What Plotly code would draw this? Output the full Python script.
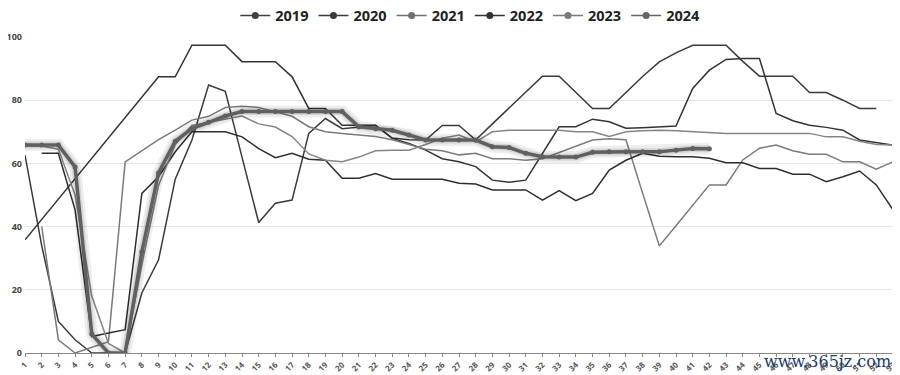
import plotly.graph_objects as go

weeks = list(range(1, 54))
N = None

y2019 = [62.6, 34, 10, 4.2, 0, 0, 0, 19, 29.5, 55, 67.4, 84.8, 82.8, 62, 41.3, 47.4, 48.4, 69.5, 74.2, 71,
         71.5, 72, 68, 67.5, 67.4, 72, 72, 67.4, 72.5, 77.5, 82.5, 87.6, 87.6, 82.5, 77.4, 77.4, 82.5, 87.5, 92.1, 95,
         97.4, 97.4, 97.4, 92.3, 87.6, 87.6, 87.6, 82.4, 82.4, 80, 77.4, 77.4, N]
y2020 = [35.8, N, N, N, N, N, N, N, 87.4, 87.4, 97.4, 97.4, 97.4, 92.2, 92.2, 92.2, 87.4, 77.4, 77.4, 72.1,
         72.1, 72.1, 67.9, 66.3, 64.2, 61.5, 60.5, 59, 54.7, 54, 54.7, 63, 71.6, 71.6, 74, 73.2, 71.1, 71.3, 71.5, 71.8,
         83.7, 89.5, 92.9, 93.2, 93.2, 75.8, 73.5, 72.1, 71.4, 70.5, 67.4, 66.5, 65.8]
y2021 = [N, 40, 4.2, 0, 1.8, 3.6, 60.5, 64, 67.5, 70.5, 73.7, 74.9, 77.7, 78.1, 77.7, 76.3, 74.9, 71.6, 70, 69.5,
         69, 68.5, 67.5, 66, 64.5, 64, 62.7, 63.2, 61.5, 61.5, 61, 61.5, 63.5, 65.5, 67.4, 67.8, 67.5, 50.6, 33.9, 40.3,
         46.8, 53.2, 53.2, 61.1, 64.8, 65.8, 64.0, 62.9, 62.9, 60.5, 60.5, 58.2, 60.5]
y2022 = [N, 63.2, 63.2, 45.3, 5.2, 6.3, 7.4, 50.5, 55.8, 63.7, 70, 70, 70, 68.4, 64.7, 61.8, 63.2, 61.3, 61, 55.3,
         55.3, 56.8, 55, 55, 55, 55, 53.7, 53.5, 51.6, 51.6, 51.6, 48.4, 51.4, 48.2, 50.5, 57.9, 61, 63.2, 62.3, 62.1,
         62.1, 61.6, 60.2, 60.2, 58.4, 58.4, 56.6, 56.6, 54.2, 55.8, 57.6, 53.2, 45.3]
y2023 = [65.5, 65.5, 64.5, 50, 18, 3, 0, 28, 53, 66, 72, 73, 74, 75, 72.5, 71.5, 68.5, 63, 61, 60.5,
         62, 64, 64.2, 64.2, 66, 68, 69, 66.8, 70, 70.5, 70.5, 70.5, 70.5, 70, 70, 68.5, 70, 70.3, 70.5, 70.3,
         70, 69.7, 69.5, 69.5, 69.5, 69.5, 69.7, 69.5, 68.4, 68.4, 67, 66, 65.8]
y2024 = [65.8, 65.8, 65.8, 58.9, 6, 0, 0, 32, 57, 67, 71, 73, 75, 76.4, 76.4, 76.4, 76.4, 76.4, 76.4, 76.4,
         71.6, 71, 70.5, 69, 67.4, 67.4, 67.4, 67.4, 65.3, 65, 63.2, 62.1, 62, 62, 63.5, 63.7, 63.7, 63.7, 63.7, 64.2,
         64.7, 64.6]

years = ["2019", "2020", "2021", "2022", "2023"]
series = [y2019, y2020, y2021, y2022, y2023]
colors = ["#3a3a3a", "#333333", "#7a7a7a", "#2e2e2e", "#858585"]
legend_colors = ["#3f3f3f", "#3a3a3a", "#707070", "#333333", "#7a7a7a", "#666666"]

fig = go.Figure()
for name, ys, c in zip(years, series, colors):
    fig.add_trace(go.Scatter(x=weeks, y=ys, mode="lines", name=name, showlegend=False,
                             connectgaps=True, line=dict(color=c, width=1.5)))

x24 = weeks[:len(y2024)]
# soft shadow for 2024
fig.add_trace(go.Scatter(x=x24, y=y2024, mode="lines", showlegend=False, hoverinfo="skip",
                         line=dict(color="rgba(0,0,0,0.07)", width=12)))
fig.add_trace(go.Scatter(x=x24, y=y2024, mode="lines", showlegend=False, hoverinfo="skip",
                         line=dict(color="rgba(0,0,0,0.10)", width=7)))
fig.add_trace(go.Scatter(x=x24, y=y2024, mode="lines+markers", name="2024", showlegend=False,
                         line=dict(color="#606060", width=3.5),
                         marker=dict(color="#606060", size=5)))

# legend entries
for name, c in zip(years + ["2024"], legend_colors):
    fig.add_trace(go.Scatter(x=[None], y=[None], mode="lines+markers", name=name,
                             line=dict(color=c, width=1.5), marker=dict(color=c, size=7)))

fig.add_annotation(x=1.0, xref="paper", xanchor="right", y=-0.026, yref="paper", yanchor="middle",
                   text="www.365jz.com", showarrow=False,
                   font=dict(family="DejaVu Serif", size=16, color="#1c3a6b"))

fig.update_layout(
    width=892, height=367,
    margin=dict(l=17, r=7, t=29, b=22, autoexpand=False),
    paper_bgcolor="white", plot_bgcolor="white",
    font=dict(family="Open Sans", color="#444"),
    legend=dict(orientation="h", x=0.513, xanchor="center", y=1.068, yanchor="middle",
                font=dict(size=14.5, color="#222", family="Open Sans", weight="bold"),
                itemwidth=30, tracegroupgap=0, bgcolor="rgba(0,0,0,0)"),
    xaxis=dict(range=[1, 53], tickmode="array", tickvals=weeks, ticktext=[str(w) for w in weeks],
               tickangle=-45, tickfont=dict(size=8, color="#555", weight="bold"),
               showgrid=False, showline=True, linecolor="#888", linewidth=1,
               ticks="outside", ticklen=3, tickcolor="#888", automargin=False, zeroline=False,
               ticklabelstandoff=0),
    yaxis=dict(range=[0, 100], tickvals=[0, 20, 40, 60, 80, 100],
               tickfont=dict(size=9, color="#444", weight="bold"),
               showgrid=True, gridcolor="#e6e6e6", gridwidth=1, zeroline=False,
               showline=False, automargin=False, ticklabelstandoff=2),
)

fig.write_html("out.html")
